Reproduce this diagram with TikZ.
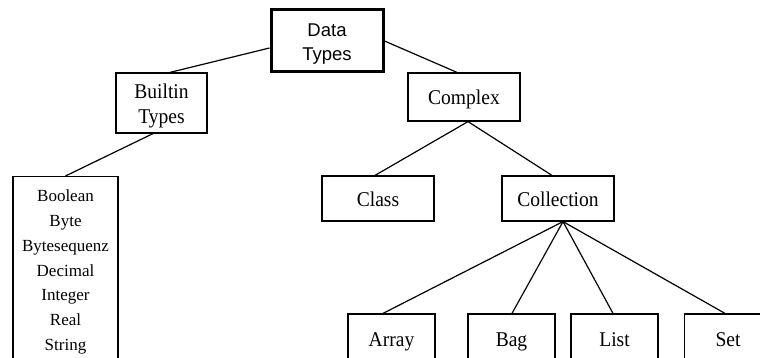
\documentclass[tikz,border=0pt]{standalone}
\usepackage{fontspec}
\setmainfont{Liberation Serif}
\newfontfamily\nodefont[FakeStretch=0.93]{Liberation Serif}
\newfontfamily\headfont{Liberation Sans}

\begin{document}
\begin{tikzpicture}[x=1pt,y=-1pt,
  typebox/.style={draw, line width=1.2pt, inner sep=0pt, align=center,
    font=\nodefont\fontsize{21}{24.5}\selectfont},
  onebox/.style={typebox, text height=16pt, text depth=0pt},
  rootbox/.style={typebox, line width=3pt, font=\headfont\fontsize{18.5}{23.5}\selectfont},
  listbox/.style={typebox, font=\fontsize{17}{24.8}\selectfont},
  link/.style={line width=1.2pt}]
% picture is cut off at the bottom and right edge
\useasboundingbox (0,0) rectangle (760,358);
\clip (0,0) rectangle (760,358);

% root and first level
\node[rootbox, minimum width=112pt, minimum height=62pt] (data) at (327,41)
  {\rule{0pt}{20pt}Data\\Types\rule[-4.5pt]{0pt}{4.5pt}};
\node[typebox, minimum width=91pt, minimum height=60pt] (builtin) at (161.5,103)
  {\rule{0pt}{22pt}Builtin\\Types\rule[-5.5pt]{0pt}{5.5pt}};
\node[onebox, minimum width=112pt, minimum height=48pt] (complex) at (464,97) {Complex};

% builtin types as one list
\node[listbox, anchor=north, minimum width=105pt] (builtinlist) at (65.5,176)
  {\rule{0pt}{25pt}Boolean\\Byte\\Bytesequenz\\Decimal\\Integer\\Real\\String\rule[-15pt]{0pt}{15pt}};

% complex types
\node[onebox, minimum width=112pt, minimum height=45pt] (class) at (378,198.5) {Class};
\node[onebox, minimum width=112pt, minimum height=45pt] (collection) at (558,198.5) {Collection};

% collections
\foreach \name/\x in {Array/391.5, Bag/511.5, List/614.5, Set/728}{
  \node[onebox, minimum width=87pt, minimum height=49pt] (\name) at (\x,338.5) {\name};
}

% connectors
\draw[link] ([yshift=-7pt]data.west) -- ([xshift=8.5pt]builtin.north);
\draw[link] (data.east) -- ([xshift=-7pt]complex.north);
\draw[link] ([xshift=-8.5pt]builtin.south) -- (builtinlist.north);
\draw[link] ([xshift=4pt]complex.south) -- ([xshift=-3pt]class.north);
\draw[link] ([xshift=4pt]complex.south) -- ([xshift=-6pt]collection.north);
\coordinate (collbot) at ([xshift=5pt]collection.south);
\foreach \name/\dx in {Array/-8.5, Bag/0.5, List/-1.5, Set/-3}{
  \draw[link] (collbot) -- ([xshift=\dx pt]\name.north);
}
\end{tikzpicture}
\end{document}
